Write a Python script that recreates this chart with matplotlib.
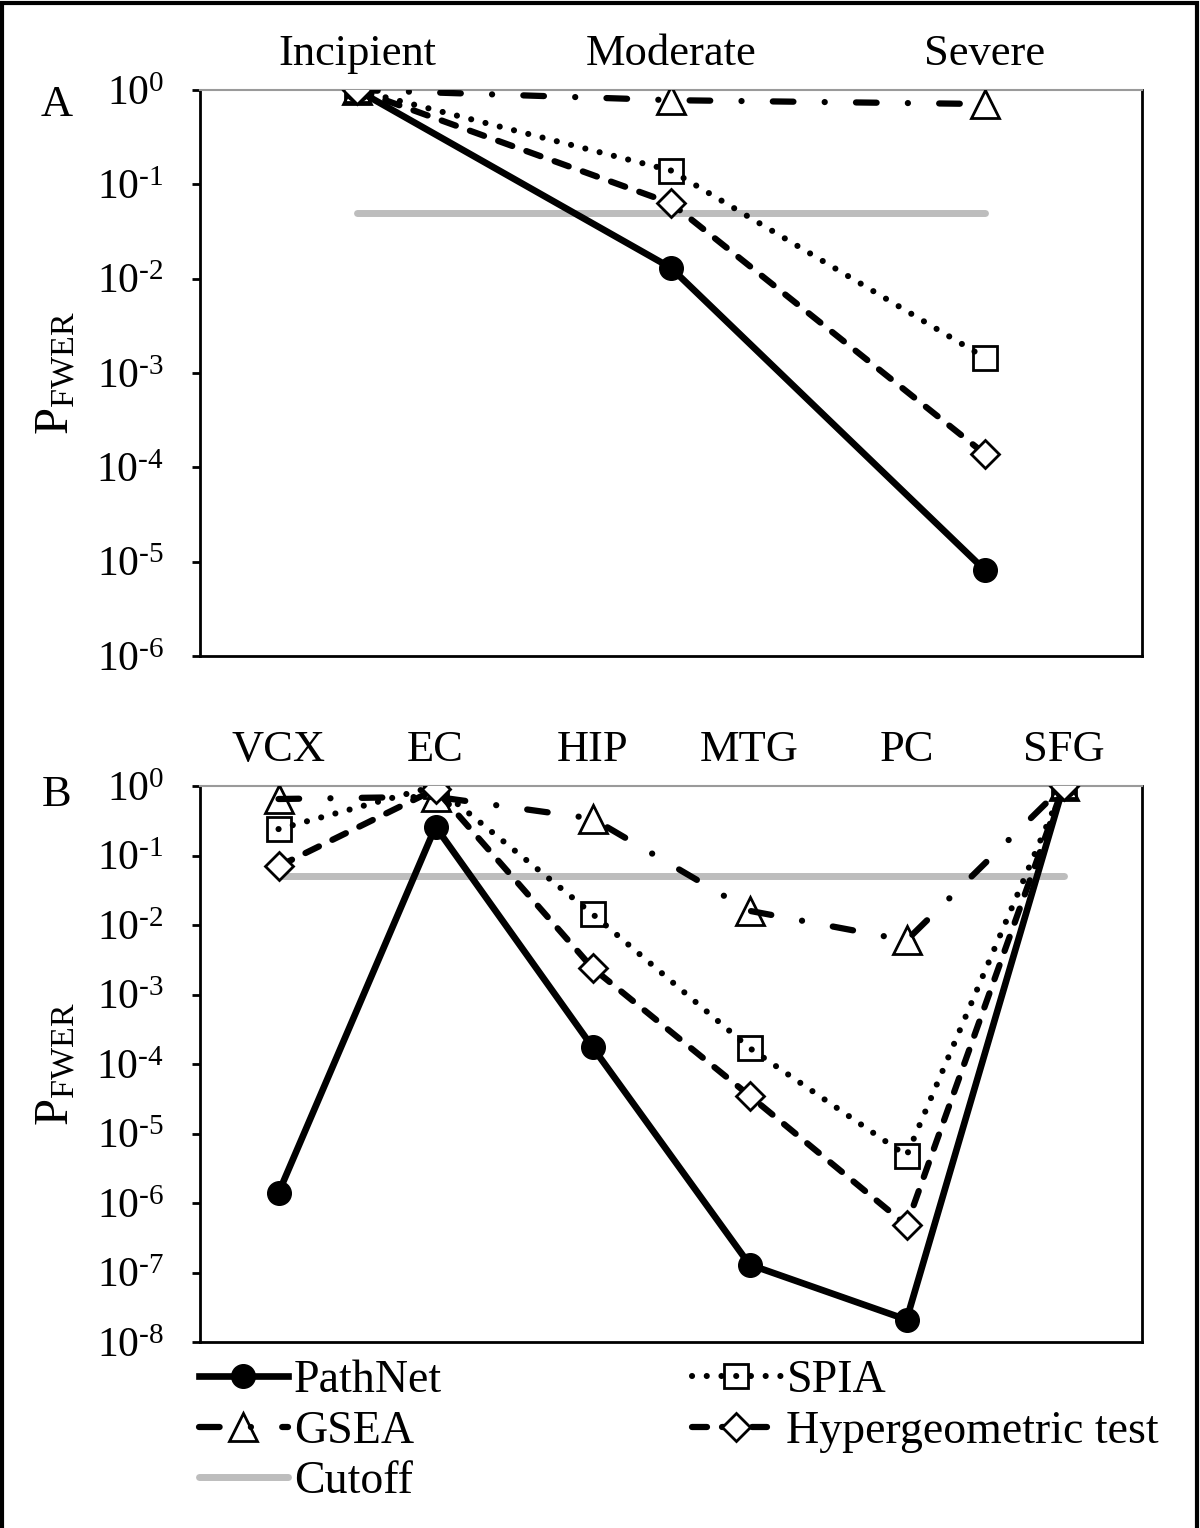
import matplotlib
matplotlib.use("Agg")
import matplotlib.pyplot as plt
import numpy as np
from matplotlib.patches import Rectangle

plt.rcParams['font.family'] = ['Liberation Serif', 'DejaVu Serif']
plt.rcParams['mathtext.fontset'] = 'custom'
plt.rcParams['mathtext.rm'] = 'Liberation Serif'
plt.rcParams['mathtext.it'] = 'Liberation Serif:italic'
plt.rcParams['mathtext.bf'] = 'Liberation Serif:bold'

# panel A: disease stages
stages = ["Incipient", "Moderate", "Severe"]
pathnet_a = [1.0, 1.3e-2, 8.1e-6]
spia_a = [1.0, 0.14, 1.45e-3]
gsea_a = [1.0, 0.78, 0.71]
hyper_a = [1.0, 0.063, 1.38e-4]

# panel B: brain regions
regions = ["VCX", "EC", "HIP", "MTG", "PC", "SFG"]
pathnet_b = [1.4e-6, 0.26, 1.75e-4, 1.3e-7, 2.1e-8, 1.0]
spia_b = [0.24, 1.0, 0.0144, 1.7e-4, 4.8e-6, 1.0]
gsea_b = [0.65, 0.70, 0.34, 0.016, 6.0e-3, 1.0]
hyper_b = [0.07, 0.90, 2.4e-3, 3.5e-5, 4.8e-7, 1.0]

cutoff = 0.05


def DrawPanel(ax, cats, pathnet, spia, gsea, hyper, ymin_exp):
	xs = np.arange(len(cats)) + 0.5

	ax.plot([xs[0], xs[-1]], [cutoff, cutoff], color="#bdbdbd", lw=5,
		solid_capstyle="round", zorder=1, label="Cutoff")

	ax.plot(xs, pathnet, color="black", lw=4.8, marker="o", ms=17,
		mfc="black", mec="black", zorder=3, label="PathNet")
	ax.plot(xs, spia, color="black", lw=4.4, dashes=(0.01, 2.4),
		dash_capstyle="round", marker="s", ms=17, mfc="none", mec="black",
		mew=2, zorder=3, label="SPIA")
	ax.plot(xs, gsea, color="black", lw=4.5, dashes=(3.3, 5.0, 0.01, 5.0),
		dash_capstyle="round", marker="^", ms=20, mfc="none", mec="black",
		mew=2, zorder=3, label="GSEA")
	ax.plot(xs, hyper, color="black", lw=4.5, dashes=(2.4, 2.4),
		dash_capstyle="round", marker="D", ms=14, mfc="white", mec="black",
		mew=2, zorder=4, label="Hypergeometric test")

	ax.set_yscale("log")
	ax.set_ylim(10.0 ** ymin_exp, 1.0)
	ax.set_xlim(0, len(cats))

	exps = list(range(ymin_exp, 1))
	ax.set_yticks([10.0 ** e for e in exps])
	ax.set_yticklabels([r"$\mathregular{10^{%s}}$" % str(e).replace("-", "\u2010") for e in exps])
	ax.yaxis.set_minor_locator(matplotlib.ticker.NullLocator())
	ax.tick_params(axis="y", which="major", direction="out", length=6,
		width=2, labelsize=30, pad=20)

	ax.set_xticks(xs)
	ax.set_xticklabels(cats)
	ax.tick_params(axis="x", bottom=False, top=False, labelbottom=False,
		labeltop=True, labelsize=32, pad=8)

	ax.spines["top"].set_color("#9a9a9a")
	ax.spines["top"].set_linewidth(1.5)
	for s in ["left", "bottom", "right"]:
		ax.spines[s].set_linewidth(2)

	ax.set_ylabel(r"$\mathregular{P_{FWER}}$", fontsize=35)
	ax.yaxis.set_label_coords(-0.13, 0.5)


def main():
	fig = plt.figure(figsize=(12, 15.28), dpi=100)

	ax_a = fig.add_axes([0.1667, 0.5707, 0.785, 0.3704])
	ax_b = fig.add_axes([0.1667, 0.1217, 0.785, 0.3639])

	DrawPanel(ax_a, stages, pathnet_a, spia_a, gsea_a, hyper_a, -6)
	DrawPanel(ax_b, regions, pathnet_b, spia_b, gsea_b, hyper_b, -8)

	fig.text(57 / 1200, 1 - 105 / 1528, "A", ha="center", va="center", fontsize=32)
	fig.text(57 / 1200, 1 - 795 / 1528, "B", ha="center", va="center", fontsize=32)

	h, l = ax_b.get_legend_handles_labels()
	order = ["PathNet", "GSEA", "Cutoff", "SPIA", "Hypergeometric test"]
	hs = [h[l.index(n)] for n in order]
	fig.legend(hs, order, loc="upper left", bbox_to_anchor=(0.158, 0.116),
		ncol=2, frameon=False, fontsize=33, handlelength=1.95,
		handletextpad=0.12, columnspacing=5.45, labelspacing=0.17,
		numpoints=1, borderaxespad=0, borderpad=0.2)

	fig.add_artist(Rectangle((0.0015, -0.01), 0.996, 1.008, transform=fig.transFigure,
		fill=False, edgecolor="black", lw=3))

	plt.savefig("out.png", dpi=100)


if __name__ == '__main__':
	main()
